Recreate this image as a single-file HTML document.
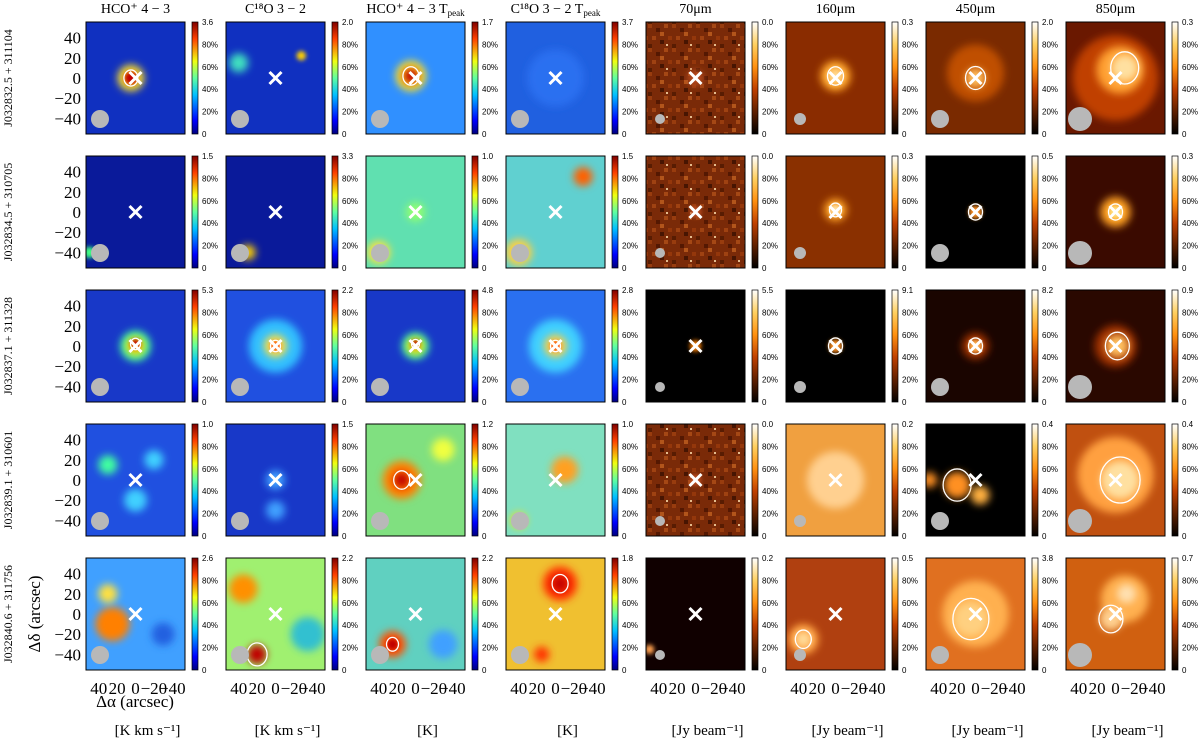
<!DOCTYPE html>
<html><head><meta charset="utf-8"><style>
body{margin:0;background:#fff;width:1200px;height:739px;overflow:hidden;font-family:"Liberation Serif",serif}
svg{position:absolute;left:0;top:0}
</style></head><body>
<svg id="fig" width="1200" height="739" xmlns="http://www.w3.org/2000/svg">
<defs>
<filter id="blur" x="-50%" y="-50%" width="200%" height="200%"><feGaussianBlur stdDeviation="4"/></filter>
<filter id="blur2" x="-50%" y="-50%" width="200%" height="200%"><feGaussianBlur stdDeviation="2"/></filter>
<linearGradient id="jet" x1="0" y1="1" x2="0" y2="0">
<stop offset="0" stop-color="#00007f"/><stop offset="0.12" stop-color="#0000ff"/><stop offset="0.35" stop-color="#00c0ff"/><stop offset="0.5" stop-color="#60ffa0"/><stop offset="0.65" stop-color="#f0ff10"/><stop offset="0.85" stop-color="#ff4000"/><stop offset="1" stop-color="#800000"/></linearGradient>
<linearGradient id="hot" x1="0" y1="1" x2="0" y2="0">
<stop offset="0" stop-color="#000"/><stop offset="0.4" stop-color="#c04000"/><stop offset="0.6" stop-color="#ff9010"/><stop offset="0.8" stop-color="#ffd060"/><stop offset="1" stop-color="#fff"/></linearGradient>
<pattern id="noise" width="24" height="24" patternUnits="userSpaceOnUse">
<rect x="0" y="0" width="4" height="4" fill="#a04010"/><rect x="8" y="4" width="4" height="4" fill="#4a1400"/><rect x="16" y="0" width="4" height="4" fill="#b05018"/><rect x="4" y="12" width="4" height="4" fill="#a84814"/><rect x="12" y="16" width="4" height="4" fill="#3a1000"/><rect x="20" y="12" width="4" height="4" fill="#9a3a0c"/><rect x="0" y="20" width="4" height="4" fill="#501800"/><rect x="12" y="8" width="4" height="4" fill="#c06020"/><rect x="18" y="20" width="2" height="2" fill="#ffe0b0"/>
</pattern>
</defs>
</svg>
<script>
const titles=["HCO⁺ 4 − 3","C¹⁸O 3 − 2","HCO⁺ 4 − 3 T","C¹⁸O 3 − 2 T","70μm","160μm","450μm","850μm"];
const units=["[K km s⁻¹]","[K km s⁻¹]","[K]","[K]","[Jy beam⁻¹]","[Jy beam⁻¹]","[Jy beam⁻¹]","[Jy beam⁻¹]"];
const sources=["J032832.5 + 311104","J032834.5 + 310705","J032837.1 + 311328","J032839.1 + 310601","J032840.6 + 311756"];
const maxVals=[[3.6,2.0,1.7,3.7,0.0,0.3,2.0,0.3],[1.5,3.3,1.0,1.5,0.0,0.3,0.5,0.3],[5.3,2.2,4.8,2.8,5.5,9.1,8.2,0.9],[1.0,1.5,1.2,1.0,0.0,0.2,0.4,0.4],[2.6,2.2,2.2,1.8,0.2,0.5,3.8,0.7]];
const cbTicks=["0","20%","40%","60%","80%"];
const axisTicks=[40,20,0,-20,-40];
const bgs=[["#1030c0","#1030c0","#3090ff","#2060e0","#7a2a08","#8a2c00","#7a2a00","#6a1800"],
["#0a1a9a","#0a1a9a","#60e0b0","#60d0d0","#7a2a08","#8a3000","#000","#3a0a00"],
["#1838c8","#2050e0","#1838c8","#2a70f0","#000","#000","#1a0500","#2a0800"],
["#2050e0","#1838c8","#80e080","#80e0c0","#7a2a08","#f0a040","#000","#c05010"],
["#40a0ff","#a0f070","#60d0c0","#f0c030","#100000","#b04010","#e07020","#d06010"]];
const noisy=[[0,0,0,0,1,0,0,0],[0,0,0,0,1,0,0,0],[0,0,0,0,0,0,0,0],[0,0,0,0,1,0,0,0],[0,0,0,0,0,0,0,0]];
const blobs=[[[[5,0,14,"#ffe020"],[5,0,7,"#c00000",1]],[[40,15,10,"#40e0c0"],[-28,22,5,"#ffd000"]],[[5,2,16,"#ffe020"],[5,2,8,"#c00000",1]],[[0,0,30,"#2a70f0"]],[[0,0,8,"#c05020"]],[[0,2,16,"#ffa020"],[0,2,8,"#ffe0a0",1]],[[0,5,30,"#c05000"],[0,0,10,"#ffc060",1]],[[0,0,45,"#c04000"],[-5,8,25,"#ffa030"],[-10,10,14,"#ffe0a0",1]]],
[[[50,-40,6,"#40ff80"]],[[30,-40,8,"#ffd000"]],[[40,-40,12,"#ffe040"],[0,0,10,"#90ff70"]],[[-30,35,10,"#ff6000"],[40,-40,14,"#ffd040"]],[[0,0,6,"#c05020"]],[[0,2,12,"#ffa020"],[0,2,6,"#ffe0a0",1]],[[0,0,7,"#ff9020",1]],[[0,0,16,"#ffa020"],[0,0,7,"#ffe080",1]]],
[[[0,0,16,"#40ffa0"],[0,0,10,"#ffd000"],[0,2,5,"#c00000",1]],[[0,0,28,"#30c0ff"],[0,0,12,"#ffe040"],[0,0,5,"#ff3000",1]],[[0,0,14,"#40ffa0"],[0,0,9,"#ffd000"],[0,2,4,"#c00000",1]],[[0,0,28,"#40d0ff"],[0,0,12,"#ffd040"],[0,0,5,"#ff3000",1]],[[0,0,6,"#ff8000"]],[[0,0,7,"#ff9020",1]],[[0,0,14,"#a03000"],[0,0,7,"#ffb050",1]],[[0,0,22,"#a03000"],[-2,0,12,"#ffc060",1]]],
[[[30,15,10,"#40ffa0"],[-20,20,10,"#40d0ff"],[0,-20,12,"#40d0ff"]],[[0,0,10,"#40a0ff"],[0,-30,10,"#40a0ff"]],[[-30,30,12,"#f0ff40"],[15,0,20,"#ff8000"],[15,0,8,"#c00000",1]],[[-10,10,14,"#ffa020"],[40,-40,8,"#ffe000"]],[[0,0,6,"#c05020"]],[[0,0,30,"#ffd090"]],[[20,-5,14,"#ff9020",1],[-5,-15,10,"#ffb040"],[50,0,8,"#ff9020"]],[[0,5,40,"#ffa040"],[-5,0,20,"#ffe0a0",1]]],
[[[-30,-20,12,"#2060e0"],[25,-10,18,"#ff8000"],[30,20,10,"#ffe040"]],[[-35,-20,18,"#30c0d0"],[35,25,15,"#ff9000"],[20,-40,10,"#c00000",1]],[[-30,-30,15,"#40a0ff"],[25,-30,14,"#ff5000"],[25,-30,6,"#c00000",1]],[[15,-40,8,"#ff3000"],[-5,30,18,"#ff3000"],[-5,30,8,"#c00000",1]],[[50,-35,5,"#ffa050"]],[[35,-25,16,"#ffa040"],[35,-25,8,"#ffe0a0",1]],[[0,0,35,"#ffb050"],[5,-5,18,"#ffd080",1]],[[-10,15,25,"#ffb050"],[-12,20,10,"#ffe0b0"],[5,-5,12,"#ffd090",1]]]];
const beamR=[9,9,9,9,5,6,9,12];
const svg=document.getElementById('fig');
const NS="http://www.w3.org/2000/svg";
function mk(t,a,p){const e=document.createElementNS(NS,t);for(const k in a)e.setAttribute(k,a[k]);(p||svg).appendChild(e);return e;}
const X0=86,DX=140,Y0=22,DY=134,W=99,H=112;
function xs(c,v){return X0+c*DX+W/2-v*0.92;}
function ys(r,v){return Y0+r*DY+H/2-v*1.01;}
for(let r=0;r<5;r++){for(let c=0;c<8;c++){
 const px=X0+c*DX,py=Y0+r*DY;
 const g=mk('g',{});
 
 
 const cl=mk('clipPath',{id:'c'+r+'_'+c});mk('rect',{x:px,y:py,width:W,height:H},cl);
 const inner=mk('g',{'clip-path':'url(#c'+r+'_'+c+')'},g);
 mk('rect',{x:px,y:py,width:W,height:H,fill:bgs[r][c]},inner);
 if(noisy[r][c])mk('rect',{x:px,y:py,width:W,height:H,fill:'url(#noise)',opacity:0.8},inner);
 blobs[r][c].forEach((b,i)=>{
  const e=mk('circle',{cx:xs(c,b[0]),cy:ys(r,b[1]),r:b[2]*0.95,fill:b[3],filter:b[2]>7?'url(#blur)':'url(#blur2)'},inner);
  
  
  if(b[4]){const ct=mk('ellipse',{cx:xs(c,b[0]),cy:ys(r,b[1]),rx:b[2]*1.0,ry:b[2]*1.15,fill:'none',stroke:'#fff','stroke-width':1.3},inner);
  }
 });
 const bm=mk('circle',{cx:px+14,cy:py+97,r:beamR[c],fill:'#b8b8b8'},inner);
 
 const cx=xs(c,0),cy=ys(r,0);
 const cr=mk('path',{d:`M${cx-6} ${cy-6}L${cx+6} ${cy+6}M${cx+6} ${cy-6}L${cx-6} ${cy+6}`,stroke:'#fff','stroke-width':3},g);
 
 mk('rect',{x:px,y:py,width:W,height:H,fill:'none',stroke:'#000','stroke-width':1},g);
 const cb=mk('rect',{x:px+106,y:py,width:6,height:H,fill:c<4?'url(#jet)':'url(#hot)',stroke:'#000','stroke-width':0.7},g);
 
 for(let k=0;k<=5;k++){const ty=py+H-k*H/5;
  const t=mk('text',{x:px+116,y:ty+3,'font-size':8,'font-family':'Liberation Sans, sans-serif',fill:'#000'},g);
  t.textContent=k==5?maxVals[r][c].toFixed(1):cbTicks[k];
  }
 if(c==0){axisTicks.forEach(v=>{const t=mk('text',{x:px-5,y:ys(r,v)+6,'font-size':17,'text-anchor':'end'},g);t.textContent=v<0?'−'+(-v):v;
  });}
 if(r==4){axisTicks.forEach(v=>{const t=mk('text',{x:xs(c,v),y:py+H+24,'font-size':17,'text-anchor':'middle'},g);t.textContent=v<0?'−'+(-v):v;
  });}
}}
for(let c=0;c<8;c++){
 const t=mk('text',{x:X0+c*DX+W/2,y:13,'font-size':14,'text-anchor':'middle'});
 t.textContent=titles[c];if(c==2||c==3){const ts=mk('tspan',{'font-size':9,dy:3},t);ts.textContent='peak';}
 
 const u=mk('text',{x:X0+c*DX+W/2+12,y:735,'font-size':15,'text-anchor':'middle'});u.textContent=units[c];
 
}
for(let r=0;r<5;r++){const y=Y0+r*DY+H/2;const t=mk('text',{x:0,y:0,'font-size':12,'text-anchor':'middle',transform:`translate(12,${y}) rotate(-90)`});t.textContent=sources[r];
 }
const yl=mk('text',{x:0,y:0,'font-size':17,'text-anchor':'middle',transform:`translate(40,${Y0+4*DY+H/2}) rotate(-90)`});yl.textContent='Δδ (arcsec)';

const xl=mk('text',{x:135,y:707,'font-size':17,'text-anchor':'middle'});xl.textContent='Δα (arcsec)';

</script>
</body></html>
